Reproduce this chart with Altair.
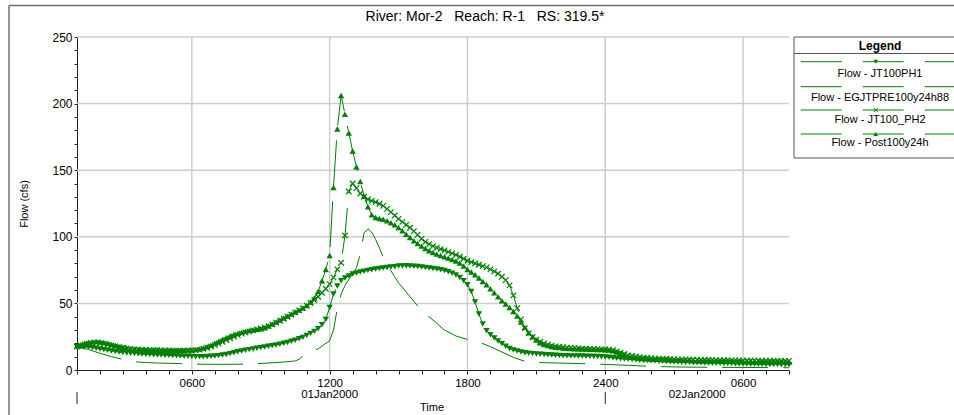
import altair as alt
import pandas as pd

# Stage hydrographs at River Mor-2, Reach R-1, RS 319.5*
# Ten-minute flows (cfs) from 01Jan2000 0100 to 02Jan2000 0800.
START_HOUR = 1.0          # hours after 01Jan2000 0000
STEP_HOURS = 1.0 / 6.0    # 10 minutes

JT100PH1 = [
    17.5, 17.6, 17.5, 17.2, 16.8, 16.4, 15.8, 15.3, 14.8, 14.3, 13.9, 13.5,
    13.1, 12.8, 12.6, 12.3, 12.1, 11.9, 11.8, 11.6, 11.5, 11.3, 11.2, 11.1,
    11.0, 10.8, 10.7, 10.5, 10.4, 10.3, 10.2, 10.0, 10.0, 10.0, 10.2, 10.3,
    10.5, 10.8, 11.2, 11.7, 12.3, 13.0, 13.7, 14.3, 14.8, 15.3, 15.8, 16.3,
    16.8, 17.3, 17.8, 18.3, 18.8, 19.4, 20.0, 20.7, 21.5, 22.4, 23.4, 24.5,
    26.0, 27.5, 29.0, 31.0, 34.0, 38.0, 47.0, 57.0, 63.0, 67.0, 69.0, 70.5,
    72.0, 72.8, 73.5, 74.2, 74.8, 75.3, 75.8, 76.2, 76.6, 77.0, 77.3, 77.6,
    78.0, 78.1, 78.2, 78.0, 77.9, 77.7, 77.4, 77.0, 76.6, 76.2, 75.8, 75.3,
    74.7, 73.8, 72.7, 71.3, 69.5, 67.0, 64.0, 59.0, 51.0, 42.0, 34.5, 29.5,
    26.5, 24.0, 21.8, 19.8, 17.8, 16.2, 15.0, 14.2, 13.5, 13.0, 12.6, 12.3,
    12.0, 11.8, 11.6, 11.4, 11.2, 11.0, 10.9, 10.8, 10.7, 10.6, 10.6, 10.5,
    10.5, 10.4, 10.3, 10.2, 10.1, 10.0, 9.8, 9.5, 9.2, 8.8, 8.5, 8.2,
    8.0, 7.8, 7.6, 7.4, 7.2, 7.1, 7.0, 6.8, 6.6, 6.5, 6.3, 6.2,
    6.0, 5.9, 5.8, 5.7, 5.6, 5.5, 5.5, 5.4, 5.3, 5.2, 5.1, 5.0,
    5.0, 4.9, 4.8, 4.8, 4.7, 4.6, 4.5, 4.5, 4.4, 4.4, 4.3, 4.3,
    4.2, 4.2, 4.1, 4.1, 4.0, 4.0, 4.0,
]

JT100_PH2 = [
    17.5, 18.2, 19.0, 19.6, 20.0, 20.2, 20.0, 19.6, 19.0, 18.4, 17.8, 17.2,
    16.7, 16.2, 15.8, 15.5, 15.3, 15.1, 15.0, 14.9, 14.8, 14.8, 14.7, 14.7,
    14.6, 14.6, 14.6, 14.6, 14.6, 14.6, 14.7, 14.9, 15.3, 15.9, 16.7, 17.6,
    18.7, 19.9, 21.2, 22.5, 23.8, 25.0, 26.2, 27.3, 28.2, 29.0, 29.8, 30.5,
    31.2, 32.0, 33.0, 34.2, 35.6, 37.0, 38.5, 40.0, 41.6, 43.2, 44.8, 46.5,
    48.3, 50.3, 52.5, 55.0, 58.0, 61.0, 64.5, 69.5, 75.5, 80.5, 101.0, 134.0,
    140.0, 136.5, 132.5, 130.0, 128.2, 127.0, 126.0, 124.8, 123.2, 121.0, 118.5, 116.0,
    113.5, 111.2, 109.0, 106.8, 104.3, 101.5, 98.5, 96.2, 94.5, 93.0, 91.8, 90.8,
    89.8, 88.7, 87.6, 86.4, 85.0, 83.5, 82.0, 81.0, 80.0, 79.0, 78.0, 77.0,
    75.5, 74.0, 72.3, 70.0, 67.5, 63.5, 56.0, 46.5, 38.0, 31.5, 27.5, 24.8,
    22.8, 21.2, 20.0, 19.0, 18.3, 17.8, 17.4, 17.1, 16.8, 16.6, 16.4, 16.2,
    16.0, 15.9, 15.8, 15.7, 15.6, 15.5, 15.4, 15.3, 14.8, 14.0, 13.0, 12.0,
    11.0, 10.5, 10.0, 9.6, 9.3, 9.0, 8.8, 8.6, 8.5, 8.4, 8.3, 8.2,
    8.1, 8.0, 7.9, 7.8, 7.8, 7.7, 7.6, 7.6, 7.5, 7.5, 7.4, 7.4,
    7.3, 7.3, 7.3, 7.2, 7.2, 7.2, 7.1, 7.1, 7.1, 7.0, 7.0, 7.0,
    7.0, 7.0, 7.0, 6.9, 6.9, 6.9, 6.9,
]

POST100Y24H = [
    18.0, 19.0, 20.0, 20.8, 21.3, 21.5, 21.2, 20.7, 20.0, 19.2, 18.4, 17.7,
    17.0, 16.5, 16.0, 15.7, 15.5, 15.3, 15.2, 15.1, 15.0, 15.0, 14.9, 14.9,
    14.9, 14.8, 14.8, 14.8, 14.9, 15.0, 15.0, 15.3, 15.8, 16.6, 17.5, 18.6,
    20.0, 21.5, 23.0, 24.3, 25.5, 26.6, 27.5, 28.3, 29.0, 29.6, 30.1, 30.6,
    31.0, 31.8, 33.0, 34.5, 36.0, 37.5, 39.0, 40.5, 42.0, 43.5, 45.0, 46.5,
    48.5, 51.0, 54.0, 59.0, 67.0, 75.5, 86.0, 137.0, 181.0, 206.0, 192.0, 178.0,
    164.5, 152.5, 141.5, 130.5, 122.5, 116.5, 114.5, 113.8, 113.2, 112.0, 110.5, 109.0,
    107.0, 104.5, 102.0, 99.5, 97.0, 95.0, 93.0, 91.2, 89.6, 88.2, 87.0, 86.0,
    85.0, 84.0, 83.0, 81.8, 80.3, 78.0, 75.5, 73.5, 71.5, 69.0, 66.5, 64.0,
    61.0, 58.0, 55.0, 52.0, 49.5, 47.0, 44.0, 40.5, 36.0, 32.0, 28.0, 25.0,
    22.5, 20.5, 19.2, 18.3, 17.6, 17.1, 16.8, 16.6, 16.4, 16.2, 16.0, 15.9,
    15.8, 15.7, 15.6, 15.5, 15.4, 15.3, 15.2, 15.0, 14.5, 13.5, 12.5, 11.5,
    10.5, 10.0, 9.5, 9.0, 8.7, 8.5, 8.3, 8.1, 8.0, 7.9, 7.8, 7.7,
    7.6, 7.5, 7.4, 7.4, 7.3, 7.2, 7.1, 7.0, 7.0, 6.9, 6.9, 6.8,
    6.8, 6.8, 6.7, 6.7, 6.6, 6.6, 6.5, 6.5, 6.5, 6.4, 6.4, 6.3,
    6.3, 6.3, 6.2, 6.2, 6.1, 6.1, 6.0,
]

# Pre-project run, stored at irregular times (hours after 01Jan2000 0000)
EGJTPRE_HOURS = [
    1.0, 1.5, 2.0, 2.5, 3.0, 3.5, 4.0, 4.5, 5.0, 5.5, 6.0, 6.5, 7.0, 7.5,
    8.0, 8.5, 9.0, 9.5, 10.0, 10.5, 10.67, 10.83, 11.0, 11.5, 12.0,
    12.17, 12.33, 12.5, 12.67, 12.83, 13.0, 13.17, 13.33, 13.5, 13.67,
    13.83, 14.0, 14.17, 14.33, 14.5, 14.67, 14.83, 15.0, 15.5, 16.0,
    16.5, 17.0, 17.5, 18.0, 18.5, 19.0, 19.5, 20.0, 20.5, 21.0, 21.5,
    22.0, 23.0, 24.0, 25.0, 26.0, 27.0, 28.0, 29.0, 30.0, 31.0, 32.0,
]
EGJTPRE_VALUES = [
    17.0, 15.5, 12.5, 10.0, 8.0, 6.2, 5.6, 5.2, 5.0, 4.8, 4.5, 4.3, 4.3, 4.3,
    4.3, 4.5, 4.9, 5.4, 6.0, 6.8, 8.0, 10.3, 12.0, 16.0, 22.0,
    30.0, 46.0, 57.0, 63.5, 68.0, 72.0, 77.0, 87.0, 103.0, 106.0,
    103.5, 98.0, 91.5, 85.0, 79.5, 74.5, 70.0, 65.5, 55.0, 44.5,
    37.5, 30.0, 25.5, 23.0, 21.0, 17.5, 13.5, 9.5, 6.5, 5.7, 5.4,
    5.2, 4.8, 4.2, 3.5, 2.7, 2.3, 2.1, 2.0, 1.9, 1.8, 1.7,
]

SERIES = [
    "Flow - JT100PH1",
    "Flow - EGJTPRE100y24h88",
    "Flow - JT100_PH2",
    "Flow - Post100y24h",
]

Y_GRID = [50, 100, 150, 200, 250]
X_GRID = [6, 12, 18, 24, 30]
X_TICKS = list(range(1, 33))
Y_TICKS = list(range(0, 251, 10))
DAY_STARTS = [1, 24]
DATE_CENTERS = [12, 28]
DATE_LABELS = ["01Jan2000", "02Jan2000"]
TITLE = "River: Mor-2\u00a0\u00a0\u00a0Reach: R-1\u00a0\u00a0\u00a0RS: 319.5*"


def regular_hours(values):
    return [START_HOUR + i * STEP_HOURS for i in range(len(values))]


records = []
for name, hrs, vals in [
    (SERIES[0], regular_hours(JT100PH1), JT100PH1),
    (SERIES[1], EGJTPRE_HOURS, EGJTPRE_VALUES),
    (SERIES[2], regular_hours(JT100_PH2), JT100_PH2),
    (SERIES[3], regular_hours(POST100Y24H), POST100Y24H),
]:
    records += [{"series": name, "h": h, "v": v} for h, v in zip(hrs, vals)]
flows = pd.DataFrame(records)

GREEN = "#008000"
FONT = "Liberation Sans"
W, H = 712, 333
PAD_L, PAD_T, PAD_R, PAD_B = 77, 37, 165, 45
EDGE = W + PAD_R          # right edge of the window, in plot coordinates
X_CROSS = "M-1,-1L1,1M-1,1L1,-1"

x_scale = alt.Scale(domain=[1, 32], nice=False, zero=False)
y_scale = alt.Scale(domain=[0, 250], nice=False, zero=True)

x_axis = alt.Axis(
    values=X_TICKS,
    labelExpr=(
        "datum.value % 6 != 0 ? '' : (datum.value == 24 ? '2400' : "
        "((datum.value % 24 < 10 ? '0' : '') + (datum.value % 24) + '00'))"
    ),
    labelOverlap=False,
    labelFlush=False,
    labelFont=FONT,
    labelFontSize=11.5,
    labelColor="black",
    labelPadding=3,
    tickSize=4,
    tickColor="#222",
    domainColor="#222",
    grid=False,
    title=None,
)
y_axis = alt.Axis(
    values=Y_TICKS,
    labelExpr="datum.value % 50 == 0 ? datum.label : ''",
    labelOverlap=False,
    labelFont=FONT,
    labelFontSize=12,
    labelColor="black",
    labelPadding=2,
    tickSize=3,
    tickColor="#222",
    domainColor="#222",
    grid=False,
    title="Flow (cfs)",
    titleFont=FONT,
    titleFontSize=11,
    titleFontWeight="normal",
    titleColor="black",
    titleX=-53,
    titleY=H / 2,
    titleAngle=-90,
    titleAlign="center",
    titleBaseline="middle",
)

X = alt.X("h:Q", scale=x_scale, axis=x_axis)
Y = alt.Y("v:Q", scale=y_scale, axis=y_axis)

one = pd.DataFrame({"k": [0]})

# grid
y_grid = alt.Chart(pd.DataFrame({"v": Y_GRID})).mark_rule(
    color="#cdcdcd", strokeWidth=1.5
).encode(y=Y, x=alt.value(0), x2=alt.value(W))
x_grid = alt.Chart(pd.DataFrame({"h": X_GRID})).mark_rule(
    color="#cdcdcd", strokeWidth=1.5
).encode(x=X, y=alt.value(0), y2=alt.value(H))

# hydrograph lines
lines = alt.Chart(flows).mark_line(
    color=GREEN, strokeWidth=1, strokeDash=[46, 15]
).encode(x=X, y=Y, detail="series:N")


def markers(name, shape, filled, size):
    return alt.Chart(flows).transform_filter(
        alt.datum.series == name
    ).mark_point(
        shape=shape, filled=filled, size=size, color=GREEN,
        opacity=1, strokeWidth=1.2,
    ).encode(x=X, y=Y)


pts_ph1 = markers(SERIES[0], "triangle-down", True, 40)
pts_ph2 = markers(SERIES[2], X_CROSS, False, 30)
pts_post = markers(SERIES[3], "triangle-up", True, 40)

# x-axis date row
date_text = alt.Chart(
    pd.DataFrame({"h": DATE_CENTERS, "label": DATE_LABELS})
).mark_text(font=FONT, fontSize=11.5, color="black", baseline="middle").encode(
    x=X, y=alt.value(358), text="label:N"
)
day_marks = alt.Chart(pd.DataFrame({"h": DAY_STARTS})).mark_rule(
    color="#222", strokeWidth=1
).encode(x=X, y=alt.value(355), y2=alt.value(367))
time_title = alt.Chart(one).mark_text(
    text="Time", font=FONT, fontSize=11, color="black", baseline="middle"
).encode(x=alt.value(355), y=alt.value(371))

title = alt.Chart(one).mark_text(
    text=TITLE, font=FONT, fontSize=14, color="black",
    align="center", baseline="middle",
).encode(x=alt.value(408), y=alt.value(-20))

# window frame
frame_top = alt.Chart(one).mark_rule(color="#6e6e6e", strokeWidth=1.5).encode(
    x=alt.value(-68), x2=alt.value(EDGE), y=alt.value(-31.5)
)
frame_left = alt.Chart(one).mark_rule(color="#6e6e6e", strokeWidth=1.5).encode(
    x=alt.value(-68), y=alt.value(-31.5), y2=alt.value(390)
)

# legend box: left, top, header and bottom edges; its right side is off the window
LEG_L = 717
LEG_TOP, LEG_HEAD, LEG_BOTTOM = 0, 16.5, 121


def legend_edge(**enc):
    return alt.Chart(one).mark_rule(color="#555", strokeWidth=1).encode(**enc)


legend_layers = [
    legend_edge(x=alt.value(LEG_L), y=alt.value(LEG_TOP), y2=alt.value(LEG_BOTTOM)),
    legend_edge(x=alt.value(LEG_L), x2=alt.value(EDGE), y=alt.value(LEG_TOP)),
    legend_edge(x=alt.value(LEG_L), x2=alt.value(EDGE), y=alt.value(LEG_HEAD)),
    legend_edge(x=alt.value(LEG_L), x2=alt.value(EDGE), y=alt.value(LEG_BOTTOM)),
    alt.Chart(one).mark_text(
        text="Legend", font=FONT, fontSize=12, fontWeight="bold",
        color="black", align="center", baseline="middle",
    ).encode(x=alt.value(803), y=alt.value(8.5)),
]
LEG_LINE_Y = [24.7, 49.7, 73.0, 97.0]
LEG_TEXT_Y = [37.3, 60.7, 83.3, 106.3]
LEG_SHAPES = [("triangle-down", True, 22), None, (X_CROSS, False, 16), ("triangle-up", True, 22)]
for name, ly, ty, shp in zip(SERIES, LEG_LINE_Y, LEG_TEXT_Y, LEG_SHAPES):
    legend_layers.append(
        alt.Chart(one).mark_rule(color=GREEN, strokeWidth=1, strokeDash=[41, 21]).encode(
            x=alt.value(723.7), x2=alt.value(EDGE), y=alt.value(ly)
        )
    )
    if shp is not None:
        legend_layers.append(
            alt.Chart(one).mark_point(
                shape=shp[0], filled=shp[1], size=shp[2], color=GREEN,
                opacity=1, strokeWidth=1,
            ).encode(x=alt.value(798.7), y=alt.value(ly))
        )
    legend_layers.append(
        alt.Chart(one).mark_text(
            text=name, font=FONT, fontSize=11, color="black",
            align="center", baseline="middle",
        ).encode(x=alt.value(803), y=alt.value(ty))
    )

chart = alt.layer(
    y_grid, x_grid, lines, pts_ph1, pts_ph2, pts_post,
    date_text, day_marks, time_title, title, frame_top, frame_left,
    *legend_layers,
).properties(
    width=W,
    height=H,
    autosize=alt.AutoSizeParams(type="none"),
    padding={"left": PAD_L, "top": PAD_T, "right": PAD_R, "bottom": PAD_B},
    background="white",
).configure_view(stroke=None)

chart.save("out.html", embed_options={"renderer": "svg", "actions": False})
